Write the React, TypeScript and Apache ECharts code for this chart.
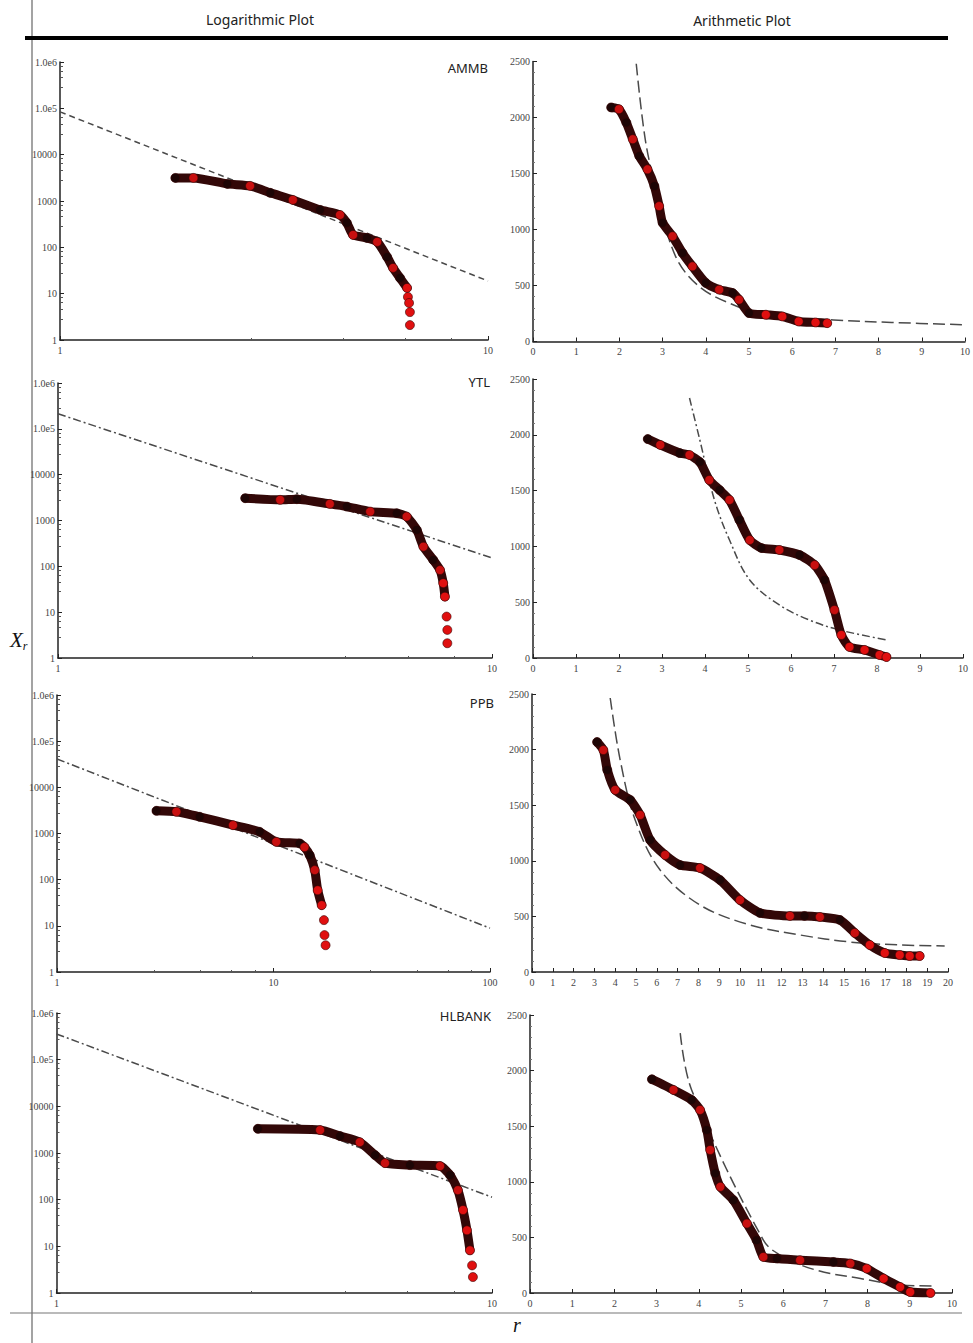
import React, { useEffect, useRef } from 'react';
import * as echarts from 'echarts';

// ---------- data ----------
const panelNames = ['AMMB', 'YTL', 'PPB', 'HLBANK'];
const headerLabels = ['Logarithmic Plot', 'Arithmetic Plot'];

const logYTicks = [1, 10, 100, 1000, 10000, 100000, 1000000];
const logYTickLabels = ['1', '10', '100', '1000', '10000', '1.0e5', '1.0e6'];

// AMMB
const ammbLog = [[1.86, 3150], [2.05, 3150], [2.46, 2340], [2.78, 2120], [3.1, 1500], [3.5, 1056], [4.05, 643], [4.51, 500], [4.68, 337], [4.84, 185], [5.21, 160], [5.51, 131], [5.81, 62], [6.0, 36], [6.23, 21.8], [6.47, 13.3], [6.5, 8.5], [6.54, 6.3], [6.57, 4.0], [6.57, 2.1]];
const ammbLogFit = [[1, 84000], [10, 18.8]];
const ammbArith = [[1.81, 2090], [1.99, 2074], [2.16, 1955], [2.31, 1806], [2.46, 1656], [2.65, 1537], [2.81, 1388], [2.92, 1209], [3.0, 1060], [3.23, 940], [3.46, 791], [3.69, 671], [4.0, 523], [4.31, 463], [4.62, 433], [4.77, 373], [5.0, 254], [5.39, 239], [5.77, 224], [6.15, 179], [6.54, 170], [6.81, 164]];
const ammbArithFit = [[2.39, 2480], [2.6, 1800], [2.85, 1360], [3.3, 760], [3.85, 490], [4.62, 330], [5.3, 250], [6.0, 210], [6.96, 192], [8.3, 170], [9.96, 150]];

// YTL
const ytlLog = [[2.7, 3070], [3.25, 2820], [3.55, 2920], [4.23, 2303], [4.63, 2010], [5.24, 1563], [6.03, 1443], [6.36, 1217], [6.71, 624], [6.95, 269], [7.32, 138], [7.59, 83], [7.72, 43], [7.79, 21.8], [7.86, 8.0], [7.89, 4.1], [7.89, 2.1]];
const ytlLogFit = [[1, 213000], [10, 152]];
const ytlArith = [[2.67, 1962], [2.96, 1909], [3.41, 1837], [3.64, 1819], [3.88, 1756], [4.1, 1595], [4.34, 1505], [4.57, 1416], [4.8, 1237], [5.04, 1057], [5.31, 986], [5.73, 968], [6.2, 923], [6.55, 833], [6.78, 699], [7.01, 430], [7.17, 206], [7.36, 99], [7.71, 72], [8.06, 27], [8.22, 9]];
const ytlArithFit = [[3.64, 2330], [3.88, 1953], [4.22, 1416], [4.57, 1057], [5.04, 699], [5.73, 475], [6.43, 340], [7.13, 251], [8.24, 161]];

// PPB
const ppbLog = [[2.88, 3100], [3.56, 2960], [4.56, 2300], [6.5, 1515], [8.63, 1087], [10.3, 660], [13.2, 610], [13.9, 507], [14.7, 340], [15.5, 161], [16.0, 59], [16.7, 28], [17.1, 13.3], [17.2, 6.3], [17.4, 3.8]];
const ppbLogFit = [[1, 41100], [100, 8.9]];
const ppbArith = [[3.13, 2068], [3.43, 1996], [3.62, 1817], [4.0, 1637], [4.72, 1547], [5.2, 1412], [5.68, 1187], [6.4, 1052], [7.12, 962], [8.08, 935], [9.04, 827], [10.0, 647], [10.96, 531], [12.4, 504], [13.1, 504], [13.84, 495], [14.8, 468], [15.52, 351], [16.24, 243], [16.96, 171], [17.68, 153], [18.16, 144], [18.64, 144]];
const ppbArithFit = [[3.76, 2464], [4.24, 1906], [4.96, 1367], [6.16, 917], [8.08, 602], [10.48, 423], [12.88, 333], [15.28, 270], [17.68, 243], [19.84, 234]];

// HLBANK
const hlbankLog = [[2.9, 3300], [4.03, 3100], [4.48, 2300], [4.97, 1710], [5.39, 900], [5.68, 607], [6.48, 550], [7.6, 525], [8.01, 336], [8.35, 160], [8.58, 60], [8.76, 22], [8.9, 8.2], [9.0, 3.9], [9.04, 2.2]];
const hlbankLogFit = [[1, 356000], [10, 113]];
const hlbankArith = [[2.89, 1922], [3.4, 1826], [3.83, 1736], [4.03, 1646], [4.19, 1466], [4.27, 1286], [4.39, 1076], [4.51, 955], [4.82, 835], [5.14, 625], [5.37, 475], [5.53, 324], [5.85, 310], [6.4, 295], [7.19, 279], [7.59, 265], [7.98, 220], [8.38, 130], [8.77, 54], [9.01, 9], [9.49, 0]];
const hlbankArithFit = [[3.56, 2337], [3.83, 1826], [5.53, 475], [6.01, 324], [6.8, 204], [7.83, 130], [8.77, 72], [9.56, 63]];

// ---------- layout ----------
type Panel = {
  grid: { left: number; top: number; width: number; height: number };
  kind: 'log' | 'arith';
  xMax: number;
  pts: number[][];
  fit: number[][];
  dash: number[];
  looseTail: number;
};

const panels: Panel[] = [
  { grid: { left: 60, top: 62, width: 428, height: 278 }, kind: 'log', xMax: 10, pts: ammbLog, fit: ammbLogFit, dash: [6, 4], looseTail: 4 },
  { grid: { left: 533, top: 61.5, width: 433, height: 280 }, kind: 'arith', xMax: 10, pts: ammbArith, fit: ammbArithFit, dash: [12, 5], looseTail: 0 },
  { grid: { left: 58, top: 383, width: 434, height: 275 }, kind: 'log', xMax: 10, pts: ytlLog, fit: ytlLogFit, dash: [8, 3, 2, 3], looseTail: 3 },
  { grid: { left: 533, top: 379, width: 430, height: 279 }, kind: 'arith', xMax: 10, pts: ytlArith, fit: ytlArithFit, dash: [8, 3, 2, 3], looseTail: 0 },
  { grid: { left: 57, top: 695, width: 433, height: 277 }, kind: 'log', xMax: 100, pts: ppbLog, fit: ppbLogFit, dash: [8, 3, 2, 3], looseTail: 3 },
  { grid: { left: 532, top: 694, width: 416, height: 278 }, kind: 'arith', xMax: 20, pts: ppbArith, fit: ppbArithFit, dash: [12, 5], looseTail: 0 },
  { grid: { left: 56.5, top: 1013, width: 435.5, height: 280 }, kind: 'log', xMax: 10, pts: hlbankLog, fit: hlbankLogFit, dash: [8, 3, 2, 3], looseTail: 2 },
  { grid: { left: 530, top: 1015, width: 422, height: 278 }, kind: 'arith', xMax: 10, pts: hlbankArith, fit: hlbankArithFit, dash: [12, 5], looseTail: 0 },
];

const AXIS = '#222';
const LABEL_FONT = { fontFamily: 'Liberation Serif, DejaVu Serif, serif', fontSize: 10, color: '#444' };

function buildOption() {
  const grid: any[] = [];
  const xAxis: any[] = [];
  const yAxis: any[] = [];
  const series: any[] = [];

  panels.forEach((p, k) => {
    grid.push({ ...p.grid, containLabel: false });
    const axisLine = { show: true, onZero: false, lineStyle: { color: AXIS, width: 1.5 } };
    const axisTick = { show: true, inside: true, length: 4, lineStyle: { color: AXIS } };
    if (p.kind === 'log') {
      xAxis.push({
        gridIndex: k, type: 'log', logBase: 10, min: 1, max: p.xMax,
        axisLine, axisTick, splitLine: { show: false },
        minorTick: { show: true, splitNumber: 5, length: 2, lineStyle: { color: '#555' } },
        axisLabel: { ...LABEL_FONT, margin: 5, formatter: (v: number) => String(Math.round(v)) },
      });
      yAxis.push({
        gridIndex: k, type: 'log', logBase: 10, min: 1, max: 1000000,
        axisLine, axisTick, splitLine: { show: false },
        minorTick: { show: true, splitNumber: 5, length: 3, lineStyle: { color: '#555' } },
        axisLabel: {
          ...LABEL_FONT, margin: 3,
          formatter: (v: number) => {
            const i = logYTicks.findIndex((t) => Math.abs(t - v) / t < 1e-6);
            return i >= 0 ? logYTickLabels[i] : '';
          },
        },
      });
    } else {
      xAxis.push({
        gridIndex: k, type: 'value', min: 0, max: p.xMax, interval: 1,
        axisLine, axisTick, splitLine: { show: false },
        axisLabel: { ...LABEL_FONT, margin: 5, formatter: (v: number) => String(v) },
      });
      yAxis.push({
        gridIndex: k, type: 'value', min: 0, max: 2500, interval: 500,
        axisLine, axisTick, splitLine: { show: false },
        minorTick: { show: true, splitNumber: 5, length: 2, lineStyle: { color: '#777' } },
        axisLabel: { ...LABEL_FONT, margin: 3, formatter: (v: number) => String(v) },
      });
    }

    series.push({
      type: 'line', xAxisIndex: k, yAxisIndex: k, data: p.fit, showSymbol: false,
      smooth: p.kind === 'arith' ? 0.35 : false, z: 1,
      lineStyle: { color: '#4a4a4a', width: 1.5, type: p.dash },
    });
    const n = p.pts.length;
    series.push({
      type: 'line', xAxisIndex: k, yAxisIndex: k, data: p.pts.slice(0, n - p.looseTail), showSymbol: false, z: 2,
      smooth: 0.2,
      lineStyle: { color: '#330808', width: 9, cap: 'round', join: 'round' },
    });
    series.push({
      type: 'scatter', xAxisIndex: k, yAxisIndex: k, data: p.pts, z: 3,
      symbol: 'circle', symbolSize: 9,
      itemStyle: {
        opacity: 1,
        borderColor: '#3a0505', borderWidth: 0.6,
        color: (q: any) => (q.dataIndex >= n - 5 ? '#e01010' : q.dataIndex % 2 ? '#c81010' : '#1d0505'),
      },
    });
  });

  const panelLabelPos = [[488, 68], [490, 382], [494, 703], [491, 1016]];
  const headFont = '14px "Liberation Sans Narrow", "Noto Sans", sans-serif';
  const graphic: any[] = [
    { type: 'line', shape: { x1: 32, y1: 0, x2: 32, y2: 1343 }, style: { stroke: '#666', lineWidth: 1.2 } },
    { type: 'line', shape: { x1: 10, y1: 1313, x2: 962, y2: 1313 }, style: { stroke: '#777', lineWidth: 1.2 } },
    { type: 'line', shape: { x1: 25, y1: 38, x2: 948, y2: 38 }, style: { stroke: '#000', lineWidth: 4 } },
    { type: 'text', x: 260, y: 19, style: { text: headerLabels[0], font: headFont, fill: '#222', align: 'center', verticalAlign: 'middle' } },
    { type: 'text', x: 742, y: 20, style: { text: headerLabels[1], font: headFont, fill: '#222', align: 'center', verticalAlign: 'middle' } },
    {
      type: 'text', x: 10, y: 640,
      style: {
        text: '{x|X}{r|r}', verticalAlign: 'middle',
        rich: {
          x: { font: 'italic 21px "Liberation Serif", serif', fill: '#111' },
          r: { font: 'italic 12px "Liberation Serif", serif', fill: '#111', padding: [12, 0, 0, 0] },
        },
      },
    },
    { type: 'text', x: 517, y: 1325, style: { text: 'r', font: 'italic 20px "Liberation Serif", serif', fill: '#111', align: 'center', verticalAlign: 'middle' } },
  ];
  panelNames.forEach((name, i) => {
    graphic.push({
      type: 'text', x: panelLabelPos[i][0], y: panelLabelPos[i][1],
      style: { text: name, font: '13px "Liberation Sans Narrow", "Noto Sans", sans-serif', fill: '#222', align: 'right', verticalAlign: 'middle' },
    });
  });

  return { animation: false, backgroundColor: '#fff', grid, xAxis, yAxis, series, graphic };
}

export default function App() {
  const ref = useRef<HTMLDivElement>(null);
  useEffect(() => {
    if (!ref.current) return;
    const chart = echarts.init(ref.current, undefined, { renderer: 'svg' });
    chart.setOption(buildOption() as any);
    return () => chart.dispose();
  }, []);
  return <div ref={ref} style={{ position: 'absolute', left: 0, top: 0, width: 973, height: 1343 }} />;
}
